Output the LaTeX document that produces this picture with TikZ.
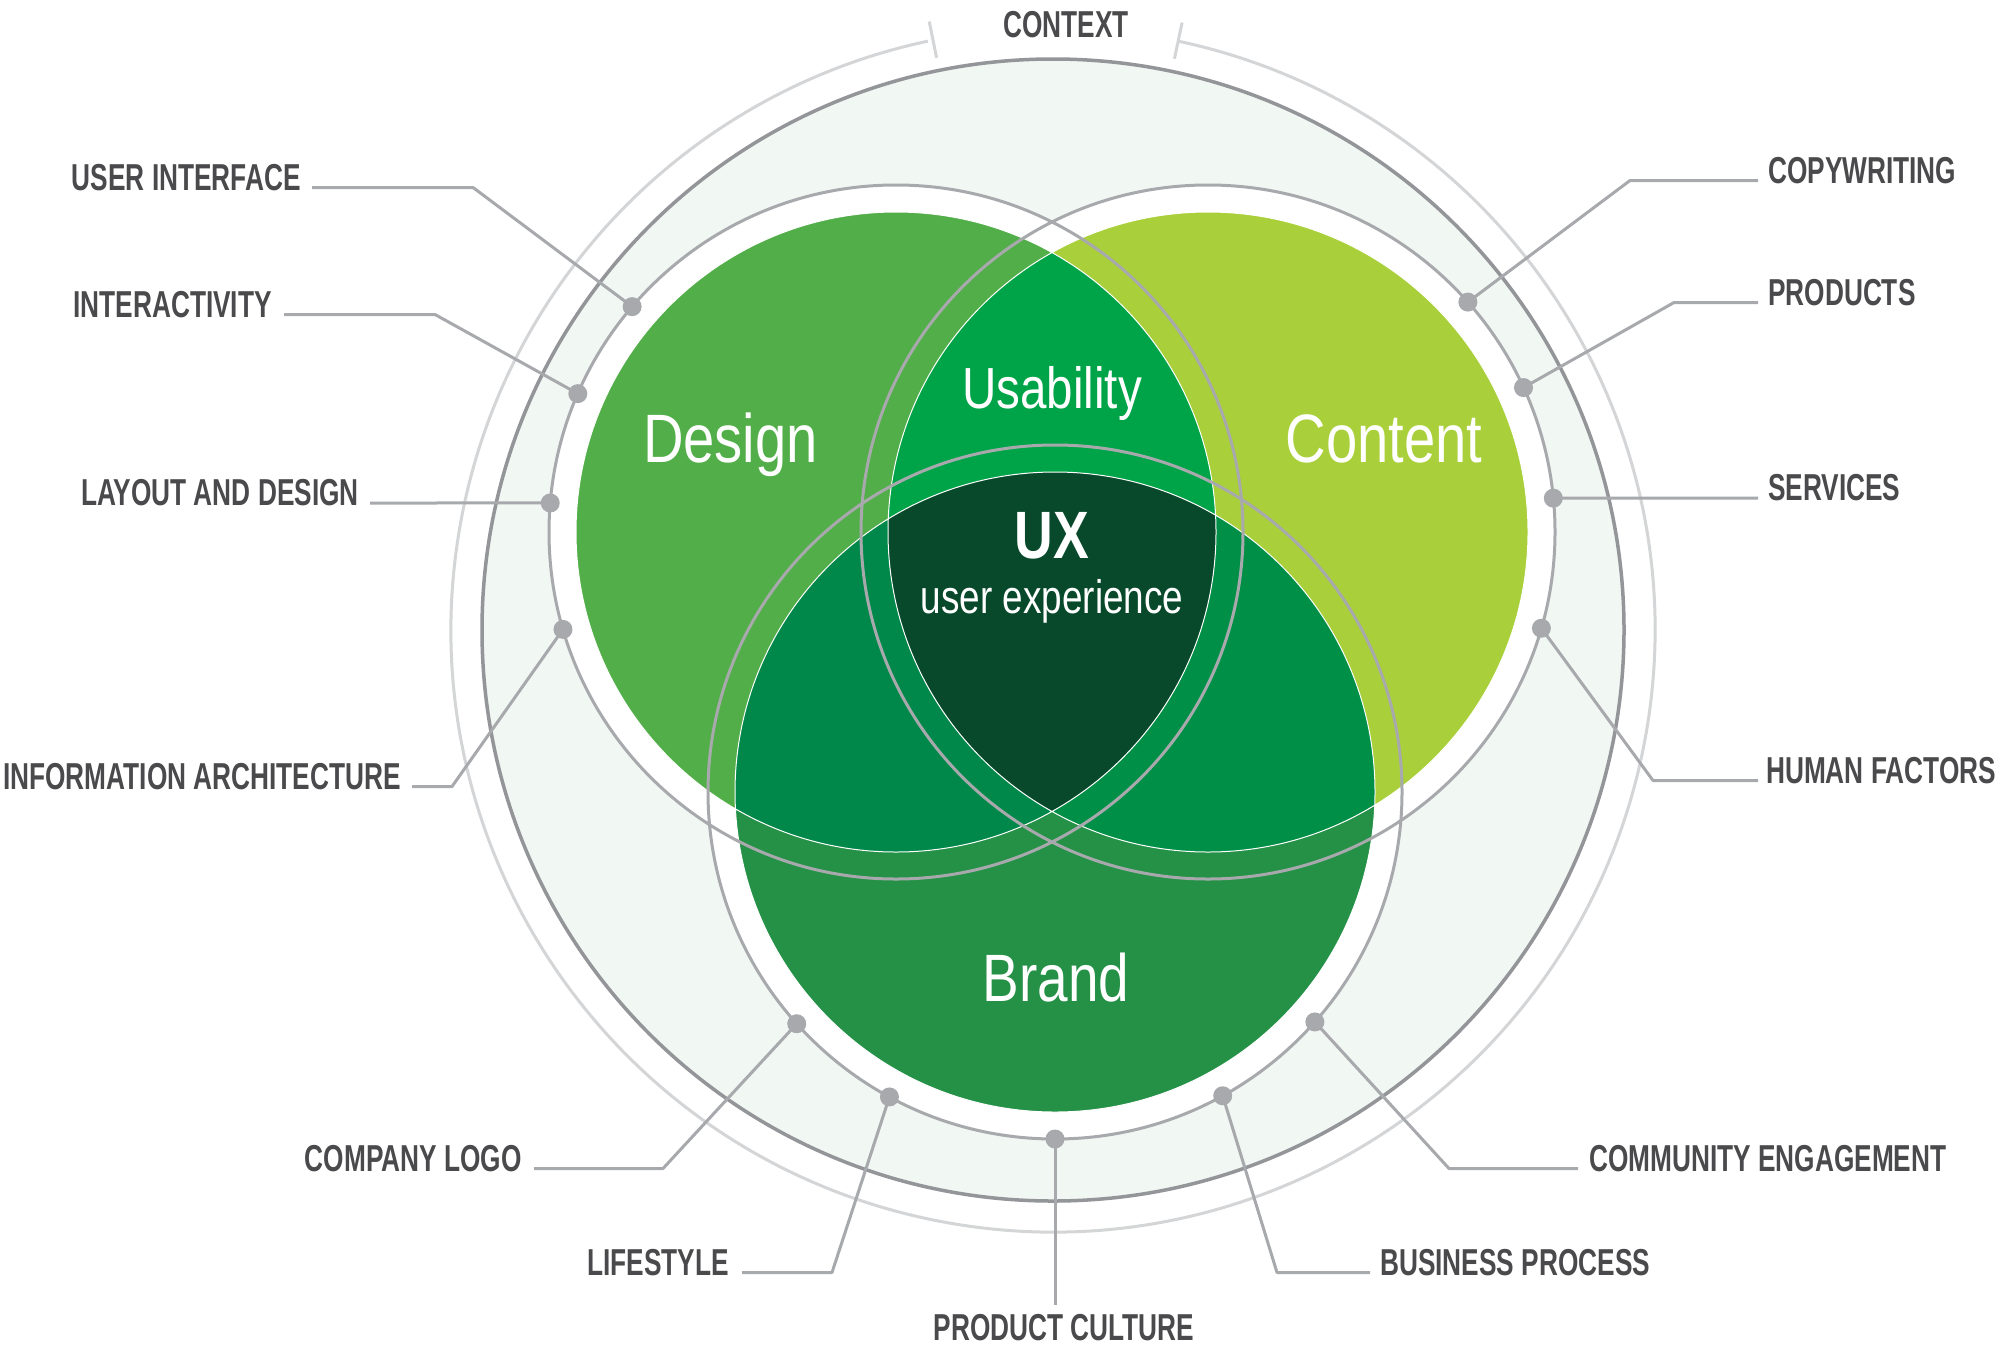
\documentclass[tikz,border=0pt]{standalone}
\usepackage{fontspec}
\setmainfont{Liberation Sans}
\newfontfamily\lblfont{Liberation Sans}[FakeStretch=0.70]
\newfontfamily\bigfont{Liberation Sans}[FakeStretch=0.82]
\newfontfamily\uefont{Liberation Sans}[FakeStretch=0.785]
\newfontfamily\uxfont{Liberation Sans}[FakeStretch=0.80]
\definecolor{cDesign}{HTML}{52AE48}
\definecolor{cContent}{HTML}{A9D03A}
\definecolor{cBrand}{HTML}{259147}
\definecolor{cUsab}{HTML}{00A448}
\definecolor{cDB}{HTML}{00884A}
\definecolor{cCB}{HTML}{008F47}
\definecolor{cUX}{HTML}{08492B}
\definecolor{cMint}{HTML}{F1F7F3}
\definecolor{cRing}{HTML}{939598}
\definecolor{cLight}{HTML}{D4D5D7}
\definecolor{cGray}{HTML}{A7A9AC}
\definecolor{cText}{HTML}{4A4A4C}
\begin{document}
\begin{tikzpicture}[x=1pt,y=-1pt,line join=round,
  leader/.style={draw=cGray,line width=3pt},
  dotnode/.style={circle,fill=cGray,inner sep=0pt,minimum size=19pt},
  lbl/.style={text=cText,font=\lblfont\bfseries\fontsize{37.5}{40}\selectfont,inner sep=0pt},
  big/.style={text=white,font=\bigfont\fontsize{68.5}{70}\selectfont,inner sep=0pt},
  usab/.style={text=white,font=\bigfont\fontsize{58}{60}\selectfont,inner sep=0pt},
  uxst/.style={text=white,font=\uxfont\bfseries\fontsize{67}{70}\selectfont,inner sep=0pt},
  uexp/.style={text=white,font=\uefont\fontsize{47}{50}\selectfont,inner sep=0pt}]
\useasboundingbox (0,0) rectangle (2009,1350);
\fill[white] (0,0) rectangle (2009,1350);

\coordinate (O) at (1053,630);
\coordinate (D) at (896,532);
\coordinate (C) at (1208,532);
\coordinate (B) at (1055,792);

% outer light ring with gap for CONTEXT
\draw[cLight,line width=3pt] ([shift={(282:602)}]O) arc[start angle=282,end angle=618,radius=602];
\draw[cLight,line width=3pt] ([shift={(258.5:584)}]O) -- ([shift={(258.5:621)}]O);
\draw[cLight,line width=3pt] ([shift={(282:584)}]O) -- ([shift={(282:621)}]O);

% context disc
\filldraw[fill=cMint,draw=cRing,line width=3.5pt] (O) circle[radius=571];

% white halo of the three circles
\fill[white] (D) circle[radius=347] (C) circle[radius=347] (B) circle[radius=347];

% green discs and overlaps
\fill[cDesign] (D) circle[radius=320];
\fill[cContent] (C) circle[radius=320];
\fill[cBrand] (B) circle[radius=320];
\begin{scope}
  \clip (C) circle[radius=320];
  \fill[cCB] (B) circle[radius=320];
\end{scope}
\begin{scope}
  \clip (D) circle[radius=320];
  \fill[cUsab] (C) circle[radius=320];
  \fill[cDB] (B) circle[radius=320];
  \clip (C) circle[radius=320];
  \fill[cUX] (B) circle[radius=320];
\end{scope}
\draw[white,line width=1pt] (D) circle[radius=320] (C) circle[radius=320] (B) circle[radius=320];

% gray outline circles
\draw[cGray,line width=3pt] (D) circle[radius=347] (C) circle[radius=347] (B) circle[radius=347];

% dots
\node[dotnode] (dUI) at ([shift={(220.5:347)}]D) {};
\node[dotnode] (dIN) at ([shift={(203.5:347)}]D) {};
\node[dotnode] (dLD) at ([shift={(184.8:347)}]D) {};
\node[dotnode] (dIA) at ([shift={(163.7:347)}]D) {};
\node[dotnode] (dCW) at ([shift={(318.5:347)}]C) {};
\node[dotnode] (dPR) at ([shift={(335.4:347)}]C) {};
\node[dotnode] (dSV) at ([shift={(354.4:347)}]C) {};
\node[dotnode] (dHF) at ([shift={(16.1:347)}]C) {};
\node[dotnode] (dCL) at ([shift={(138.1:347)}]B) {};
\node[dotnode] (dLS) at ([shift={(118.5:347)}]B) {};
\node[dotnode] (dPC) at ([shift={(90:347)}]B) {};
\node[dotnode] (dBP) at ([shift={(61.1:347)}]B) {};
\node[dotnode] (dCE) at ([shift={(41.5:347)}]B) {};

% labels
\node[lbl,anchor=base] (tCX) at (1066,37) {CONTEXT};
\node[lbl,anchor=base east] (tUI) at (301,190) {USER INTERFACE};
\node[lbl,anchor=base east] (tIN) at (272,317) {INTERACTIVITY};
\node[lbl,anchor=base east] (tLD) at (359,505.5) {LAYOUT AND DESIGN};
\node[lbl,anchor=base east] (tIA) at (401,789) {INFORMATION ARCHITECTURE};
\node[lbl,anchor=base east] (tCL) at (522,1171) {COMPANY LOGO};
\node[lbl,anchor=base east] (tLS) at (729,1275) {LIFESTYLE};
\node[lbl,anchor=base west] (tCW) at (1768,183) {COPYWRITING};
\node[lbl,anchor=base west] (tPR) at (1768,305) {PRODUCTS};
\node[lbl,anchor=base west] (tSV) at (1768,500.5) {SERVICES};
\node[lbl,anchor=base west] (tHF) at (1766,783) {HUMAN FACTORS};
\node[lbl,anchor=base west] (tCE) at (1589,1171) {COMMUNITY ENGAGEMENT};
\node[lbl,anchor=base west] (tBP) at (1380,1275) {BUSINESS PROCESS};
\node[lbl,anchor=base] (tPC) at (1064,1340) {PRODUCT CULTURE};

% knee coordinates
\coordinate (kUI) at (473,187.5);
\coordinate (kIN) at (435,314.5);
\coordinate (kIA) at (452,786.5);
\coordinate (kCL) at (663,1168.5);
\coordinate (kLS) at (832,1272.5);
\coordinate (kCW) at (1630,180.5);
\coordinate (kPR) at (1674,302.5);
\coordinate (kHF) at (1653,780.5);
\coordinate (kCE) at (1449,1168.5);
\coordinate (kBP) at (1277,1272.5);
\coordinate (kPC) at (1055,1305);

% leaders
\draw[leader] ([xshift=11pt,yshift=2.5pt]tUI.base east) -- (kUI) -- (dUI.center);
\draw[leader] ([xshift=12pt,yshift=2.5pt]tIN.base east) -- (kIN) -- (dIN.center);
\draw[leader] ([xshift=11pt,yshift=2.5pt]tLD.base east) -- (dLD.center);
\draw[leader] ([xshift=11pt,yshift=2.5pt]tIA.base east) -- (kIA) -- (dIA.center);
\draw[leader] ([xshift=12pt,yshift=2.5pt]tCL.base east) -- (kCL) -- (dCL.center);
\draw[leader] ([xshift=13pt,yshift=2.5pt]tLS.base east) -- (kLS) -- (dLS.center);
\draw[leader] ([xshift=-10pt,yshift=2.5pt]tCW.base west) -- (kCW) -- (dCW.center);
\draw[leader] ([xshift=-10pt,yshift=2.5pt]tPR.base west) -- (kPR) -- (dPR.center);
\draw[leader] ([xshift=-10pt,yshift=2.5pt]tSV.base west) -- (dSV.center);
\draw[leader] ([xshift=-8pt,yshift=2.5pt]tHF.base west) -- (kHF) -- (dHF.center);
\draw[leader] ([xshift=-11pt,yshift=2.5pt]tCE.base west) -- (kCE) -- (dCE.center);
\draw[leader] ([xshift=-10pt,yshift=2.5pt]tBP.base west) -- (kBP) -- (dBP.center);
\draw[leader] (dPC.center) -- (kPC);

% big labels
\node[big,anchor=base] (tDesign) at (730.5,462) {Design};
\node[big,anchor=base] (tContent) at (1384,462) {Content};
\node[big,anchor=base,font=\bigfont\fontsize{67}{70}\selectfont] (tBrand) at (1056,1001) {Brand};
\node[usab,anchor=base] (tUsab) at (1052,408) {Usability};
\node[uxst,anchor=base] (tUX) at (1052,558) {UX};
\node[uexp,anchor=base] (tUE) at (1052,613) {user experience};
\end{tikzpicture}
\end{document}
